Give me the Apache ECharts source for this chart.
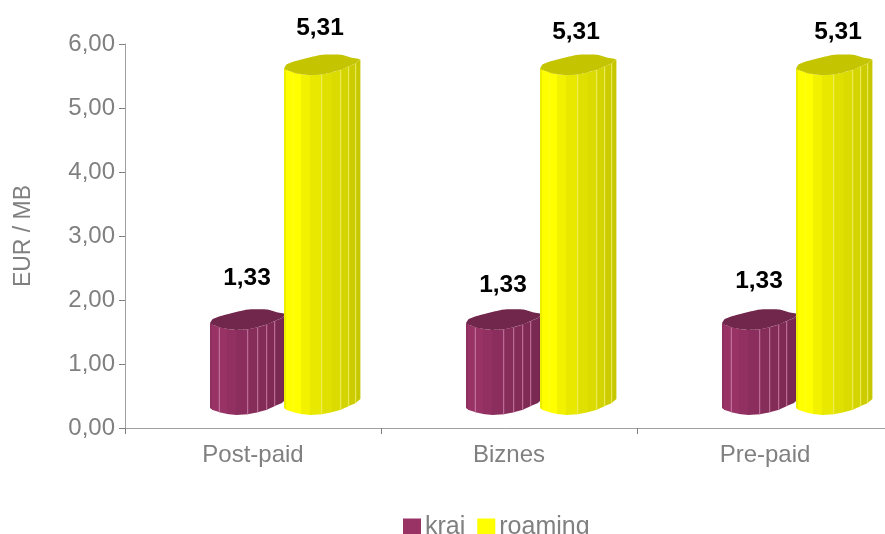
<!DOCTYPE html>
<html><head><meta charset="utf-8">
<style>html,body{margin:0;padding:0;background:#fff}#c{width:885px;height:534px}</style>
<script src="https://cdn.jsdelivr.net/npm/echarts@6/dist/echarts.min.js"></script>
</head><body><div id="c"></div>
<script>
const categories = ['Post-paid', 'Biznes', 'Pre-paid'];
const kraj = [1.33, 1.33, 1.33];
const roaming = [5.31, 5.31, 5.31];
const yTicks = ['0,00','1,00','2,00','3,00','4,00','5,00','6,00'];

// cylinder silhouette, px relative to the left edge of the bar
const facetX = [0,2,9.3,17,26,37.7,47.7,56.7,64.7,71.7,76];
const facetY = [0,1.7,4.3,6,7,6.3,4.3,1.7,-2,-5,-9];
const rearX = [76,66,57.7,37.7,12.7,2.7,0];
const rearY = [-9,-11,-13.5,-13.5,-7.5,-4,0];
const shades = [0.93,1,1,0.95,0.91,0.88,0.86,0.83,0.8,0.78];
const BAR_LIFT = 20;

function shade(rgb, k){ return 'rgb(' + rgb.map(v => Math.round(v * k)).join(',') + ')'; }

function cylinder(rgb, topK, lineAt, lineColor, barLeft, labelDx, labelDy) {
  return function (params, api) {
    const i = api.value(0), v = api.value(1);
    const top = api.coord([i, v]), base = api.coord([i, 0]);
    const x0 = top[0] + barLeft;
    const yt = top[1] - BAR_LIFT, yb = base[1] - BAR_LIFT;
    const ch = [];
    for (let f = 0; f < facetX.length - 1; f++) {
      ch.push({ type:'polygon', shape:{ points:[
        [x0+facetX[f], yt+facetY[f]], [x0+facetX[f+1]+0.4, yt+facetY[f+1]],
        [x0+facetX[f+1]+0.4, yb+facetY[f+1]], [x0+facetX[f], yb+facetY[f]] ] },
        style:{ fill: shade(rgb, shades[f]) } });
    }
    lineAt.forEach(f => ch.push({ type:'line', shape:{
      x1:x0+facetX[f], y1:yt+facetY[f], x2:x0+facetX[f], y2:yb+facetY[f] },
      style:{ stroke:lineColor, lineWidth:1 } }));
    const pts = facetX.map((x, f) => [x0+x, yt+facetY[f]]);
    rearX.forEach((x, f) => pts.push([x0+x, yt+rearY[f]]));
    ch.push({ type:'polygon', shape:{ points:pts, smooth:0.15 }, style:{ fill: shade(rgb, topK) } });
    ch.push({ type:'text', style:{ text:api.value(1).toFixed(2).replace('.', ','),
      x: top[0] + labelDx[i], y: top[1] + labelDy[i], align:'center', verticalAlign:'middle',
      font:'bold 24.5px "Liberation Sans", Arial, sans-serif', fill:'#000' } });
    return { type:'group', children:ch };
  };
}

const chart = echarts.init(document.getElementById('c'), null, { renderer:'canvas' });
const font = '"Liberation Sans", Arial, sans-serif';
chart.setOption({
  animation:false,
  grid:{ left:125, top:44, width:768, height:384, containLabel:false, outerBoundsMode:'none' },
  legend:{ left:403, top:515, itemWidth:18, itemHeight:18, itemGap:12, icon:'rect', selectedMode:false,
    padding:0, textStyle:{ color:'#808080', fontSize:25, fontFamily:font, padding:[0,0,0,-1] },
    data:['kraj','roaming'] },
  xAxis:{ type:'category', data:categories, boundaryGap:true,
    axisLine:{ lineStyle:{ color:'#a0a0a0', width:1 } },
    axisTick:{ show:true, alignWithLabel:false, length:6, lineStyle:{ color:'#808080' } },
    axisLabel:{ color:'#808080', fontSize:24, fontFamily:font, margin:15 } },
  yAxis:{ type:'value', min:0, max:6, interval:1, name:'EUR / MB', nameLocation:'middle', nameGap:90,
    nameTextStyle:{ color:'#808080', fontSize:23, fontFamily:font },
    axisLine:{ show:true, lineStyle:{ color:'#a0a0a0' } },
    axisTick:{ show:true, length:6, lineStyle:{ color:'#808080' } },
    splitLine:{ show:false },
    axisLabel:{ color:'#808080', fontSize:24, fontFamily:font, margin:10, padding:[2,0,0,0],
      formatter:(v) => yTicks[Math.round(v)] } },
  series:[
    { name:'kraj', type:'custom', clip:false, itemStyle:{ color:'#993366' },
      renderItem:cylinder([153,51,102], 0.74, [2,5,6,7,8], '#c77aa2', -43, [-6,-6,-6], [-65,-58,-62]),
      encode:{ x:0, y:1 }, data:kraj.map((v,i)=>[i,v]) },
    { name:'roaming', type:'custom', clip:false, itemStyle:{ color:'#ffff00' },
      renderItem:cylinder([255,255,0], 0.77, [5,7,8,9], '#eeee66', 31, [67,67,73], [-60,-56,-56]),
      encode:{ x:0, y:1 }, data:roaming.map((v,i)=>[i,v]) }
  ]
});
</script></body></html>
